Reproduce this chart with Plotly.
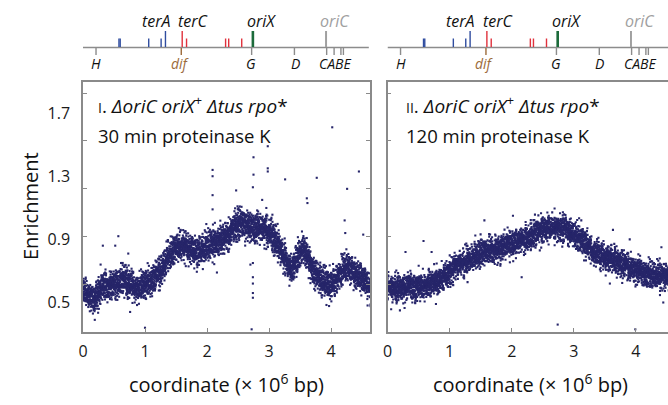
import numpy as np
import plotly.graph_objects as go

# ---------------- data ----------------
GENOME_MB = 4.64

# panel I (30 min proteinase K): trend of the enrichment cloud
TREND_I_MB = [0.00, 0.05, 0.10, 0.18, 0.25, 0.32, 0.40, 0.50, 0.58, 0.68, 0.78, 0.85,
              0.95, 1.05, 1.15, 1.25, 1.35, 1.45, 1.55, 1.65, 1.75, 1.85, 1.95, 2.05,
              2.15, 2.25, 2.35, 2.45, 2.55, 2.65, 2.75, 2.85, 2.95, 3.05, 3.15, 3.25,
              3.33, 3.40, 3.48, 3.55, 3.62, 3.70, 3.78, 3.88, 3.98, 4.08, 4.18, 4.26,
              4.35, 4.45, 4.55, 4.64]
TREND_I_VAL = [0.58, 0.56, 0.55, 0.52, 0.56, 0.61, 0.60, 0.63, 0.62, 0.65, 0.60, 0.58,
               0.61, 0.63, 0.66, 0.70, 0.77, 0.83, 0.85, 0.86, 0.83, 0.82, 0.84, 0.86,
               0.88, 0.90, 0.93, 0.98, 1.01, 0.99, 0.97, 0.98, 0.97, 0.93, 0.87, 0.79,
               0.72, 0.73, 0.80, 0.84, 0.80, 0.72, 0.66, 0.63, 0.61, 0.64, 0.70, 0.73,
               0.70, 0.66, 0.63, 0.58]
SPREAD_I = 0.045
OUT_I_MB = [4.02, 2.98, 2.98, 2.98, 2.75, 2.75, 2.74, 2.09, 2.09, 2.09, 2.09, 3.26,
            3.77, 4.45, 4.26, 2.47, 2.74, 2.74, 2.74, 2.74, 2.74, 2.70, 2.89, 3.61,
            3.62, 2.16, 4.22, 4.23, 4.52, 2.35, 0.57, 0.52, 0.32, 0.73, 0.74, 1.00,
            0.19, 0.16, 0.76, 2.72]
OUT_I_VAL = [1.61, 1.49, 1.35, 1.33, 1.42, 1.31, 1.23, 1.34, 1.30, 1.18, 1.09, 1.28,
             1.29, 1.33, 1.22, 1.21, 0.75, 0.66, 0.62, 0.56, 0.53, 0.74, 1.15, 1.16,
             1.13, 0.69, 1.02, 0.94, 0.93, 1.04, 0.92, 0.86, 0.86, 0.81, 0.53, 0.34,
             0.39, 0.43, 0.44, 0.33]

# panel II (120 min proteinase K)
TREND_II_MB = [0.00, 0.15, 0.30, 0.45, 0.60, 0.75, 0.90, 1.05, 1.20, 1.35, 1.50, 1.65,
               1.80, 1.95, 2.10, 2.25, 2.40, 2.55, 2.70, 2.85, 3.00, 3.15, 3.30, 3.45,
               3.60, 3.75, 3.90, 4.05, 4.20, 4.35, 4.50, 4.64]
TREND_II_VAL = [0.60, 0.59, 0.60, 0.60, 0.61, 0.63, 0.66, 0.71, 0.75, 0.78, 0.81, 0.83,
                0.85, 0.87, 0.89, 0.91, 0.94, 0.97, 0.98, 0.96, 0.93, 0.89, 0.83, 0.80,
                0.77, 0.75, 0.72, 0.70, 0.68, 0.67, 0.66, 0.65]
SPREAD_II = 0.04
OUT_II_MB = [2.74, 3.99, 2.16, 0.58, 0.29, 0.71, 1.56, 0.20, 0.78, 2.02, 3.12, 3.63,
             3.90, 4.41, 3.58, 4.44]
OUT_II_VAL = [0.36, 0.33, 0.66, 0.89, 0.82, 0.82, 1.02, 0.45, 0.49, 1.05, 1.02, 0.96,
              0.90, 0.85, 0.62, 0.50]

# genome map features (Mb)
BAR_MB = [0.58, 0.60, 1.06, 1.26, 1.33, 1.60, 1.67, 2.30, 2.35, 2.56, 2.74, 3.92]
BAR_KIND = ["blue", "blue", "blue", "blue", "blueT", "redT", "red", "red", "red", "red",
            "greenT", "grayT"]
MARK_MB = [0.21, 1.585, 2.72, 3.41, 3.93, 4.05, 4.16, 4.20]
MARK_IS_DIF = [False, True, False, False, False, False, False, False]
UPPER_LABELS = ["terA", "terC", "oriX", "oriC"]
UPPER_MB = [1.18, 1.78, 2.88, 4.06]
UPPER_COLORS = ["#111111", "#111111", "#111111", "#a0a0a0"]
LOWER_LABELS = ["H", "dif", "G", "D", "CABE"]
LOWER_MB = [0.21, 1.565, 2.71, 3.42, 4.06]
LOWER_COLORS = ["#111111", "#9c6b3a", "#111111", "#111111", "#111111"]

X_TICKS = [0, 1, 2, 3, 4]
Y_LABEL_TICKS = [0.5, 0.9, 1.3, 1.7]
Y_MARK_TICKS = [0.617, 0.917, 1.224, 1.524, 1.826]

# ---------------- build the point clouds ----------------
def dither(n, salt):
    i = np.arange(n, dtype=float)
    a = np.modf(np.sin(i * 12.9898 + salt) * 43758.5453)[0]
    b = np.modf(np.sin(i * 78.233 + salt * 3.1) * 24634.6345)[0]
    a = np.abs(a) * 0.999 + 0.0005
    b = np.abs(b)
    return np.sqrt(-2 * np.log(a)) * np.cos(2 * np.pi * b)

xs = np.arange(0, GENOME_MB, 0.001)
yI = np.interp(xs, TREND_I_MB, TREND_I_VAL) + SPREAD_I * dither(len(xs), 1.0)
yII = np.interp(xs, TREND_II_MB, TREND_II_VAL) + SPREAD_II * dither(len(xs), 7.0)
xI = np.concatenate([xs, OUT_I_MB]); yI = np.concatenate([yI, OUT_I_VAL])
xII = np.concatenate([xs, OUT_II_MB]); yII = np.concatenate([yII, OUT_II_VAL])

DOT = "#27266a"
FONT = "Open Sans"

fig = go.Figure()
fig.add_trace(go.Scatter(x=xI, y=yI, mode="markers", xaxis="x", yaxis="y",
                         marker=dict(size=2.1, color=DOT, symbol="square", line=dict(width=0)),
                         showlegend=False, hoverinfo="skip"))
fig.add_trace(go.Scatter(x=xII, y=yII, mode="markers", xaxis="x2", yaxis="y2",
                         marker=dict(size=2.1, color=DOT, symbol="square", line=dict(width=0)),
                         showlegend=False, hoverinfo="skip"))

W, H = 668, 405
ML, MR, MT, MB = 83, 0, 82, 73
PW = W - ML - MR
PH = H - MT - MB
YR = [0.313, 1.897]

def px_x(p):
    return (p - ML) / PW

def px_y(p):
    return (H - MB - p) / PH

AX = "#8a8a8a"
xcommon = dict(tickvals=X_TICKS, ticks="inside", ticklen=4, tickcolor=AX, tickwidth=1,
               showline=True, linecolor=AX, linewidth=1.5, mirror=True, showgrid=False,
               zeroline=False, tickfont=dict(family=FONT, size=16, color="#1a1a1a"),
               ticklabelstandoff=4)
ycommon = dict(range=YR, showgrid=False, zeroline=False, showline=True, linecolor=AX,
               linewidth=1.5, tickvals=Y_LABEL_TICKS, ticks="",
               minor=dict(tickmode="array", tickvals=Y_MARK_TICKS, ticks="inside",
                          ticklen=4, tickcolor=AX, tickwidth=1),
               tickfont=dict(family=FONT, size=16, color="#1a1a1a"))

fig.update_layout(
    width=W, height=H, autosize=False,
    margin=dict(l=ML, r=MR, t=MT, b=MB, pad=0),
    paper_bgcolor="white", plot_bgcolor="white",
    xaxis=dict(domain=[0, px_x(370)], range=[0, (370 - 83) / 62], anchor="y", **xcommon),
    xaxis2=dict(domain=[px_x(387.5), 1], range=[0, (668 - 388) / 62], anchor="y2", **xcommon),
    yaxis=dict(anchor="x", mirror="ticks", ticklabelstandoff=8, **ycommon),
    yaxis2=dict(anchor="x2", mirror=False, showticklabels=False, **ycommon),
)

COLORS = {"blue": "#2f4c9f", "red": "#e0313c", "green": "#1c6b3b", "gray": "#a0a0a0"}
shapes = []
annotations = []
for xr in ["x", "x2"]:
    shapes.append(dict(type="line", xref=xr, yref="paper", x0=0, x1=4.61,
                       y0=px_y(47.5), y1=px_y(47.5), line=dict(color="#8c8c8c", width=1.5)))
    for pos, kind in zip(BAR_MB, BAR_KIND):
        tall = kind.endswith("T")
        col = COLORS[kind.rstrip("T")]
        wdt = 2.6 if kind == "greenT" else (2.0 if kind == "grayT" else 1.4)
        shapes.append(dict(type="line", xref=xr, yref="paper", x0=pos, x1=pos,
                           y0=px_y(47), y1=px_y(31 if tall else 38.5),
                           line=dict(color=col, width=wdt)))
    for pos, isdif in zip(MARK_MB, MARK_IS_DIF):
        shapes.append(dict(type="line", xref=xr, yref="paper", x0=pos, x1=pos,
                           y0=px_y(48), y1=px_y(55),
                           line=dict(color="#9c6b3a" if isdif else "#8c8c8c", width=1.4)))
    for lab, pos, col in zip(UPPER_LABELS, UPPER_MB, UPPER_COLORS):
        annotations.append(dict(text="<i>%s</i>" % lab, xref=xr, yref="paper", x=pos,
                                y=px_y(21), showarrow=False, xanchor="center", yanchor="middle",
                                font=dict(family=FONT, size=16, color=col)))
    for lab, pos, col in zip(LOWER_LABELS, LOWER_MB, LOWER_COLORS):
        annotations.append(dict(text="<i>%s</i>" % lab, xref=xr, yref="paper", x=pos,
                                y=px_y(64), showarrow=False, xanchor="center", yanchor="middle",
                                font=dict(family=FONT, size=14, color=col)))

TITLE_1 = ["<span style='font-size:14px'>I</span>. <i>ΔoriC oriX</i><sup>+</sup> <i>Δtus rpo</i>*",
           "<span style='font-size:14px'>II</span>. <i>ΔoriC oriX</i><sup>+</sup> <i>Δtus rpo</i>*"]
TITLE_2 = ["30 min proteinase K", "120 min proteinase K"]
for k, xp in enumerate([96, 404]):
    annotations.append(dict(text=TITLE_1[k], xref="paper", yref="paper", x=px_x(xp), y=px_y(105),
                            showarrow=False, xanchor="left", yanchor="middle",
                            font=dict(family=FONT, size=19, color="#111111")))
    annotations.append(dict(text=TITLE_2[k], xref="paper", yref="paper", x=px_x(xp), y=px_y(135),
                            showarrow=False, xanchor="left", yanchor="middle",
                            font=dict(family=FONT, size=18.5, color="#111111")))

for xc in [226, 530]:
    annotations.append(dict(text="coordinate (× 10<sup>6</sup> bp)", xref="paper", yref="paper",
                            x=px_x(xc), y=px_y(383), showarrow=False, xanchor="center",
                            yanchor="middle", font=dict(family=FONT, size=20, color="#111111")))
annotations.append(dict(text="Enrichment", xref="paper", yref="paper", x=px_x(30), y=px_y(206),
                        showarrow=False, textangle=-90, xanchor="center", yanchor="middle",
                        font=dict(family=FONT, size=20, color="#111111")))

fig.update_layout(shapes=shapes, annotations=annotations)
fig.write_html("out.html", config={"displayModeBar": False},
               post_script="document.body.style.margin='0';document.body.style.padding='0';"
                           "document.body.style.overflow='hidden';")
